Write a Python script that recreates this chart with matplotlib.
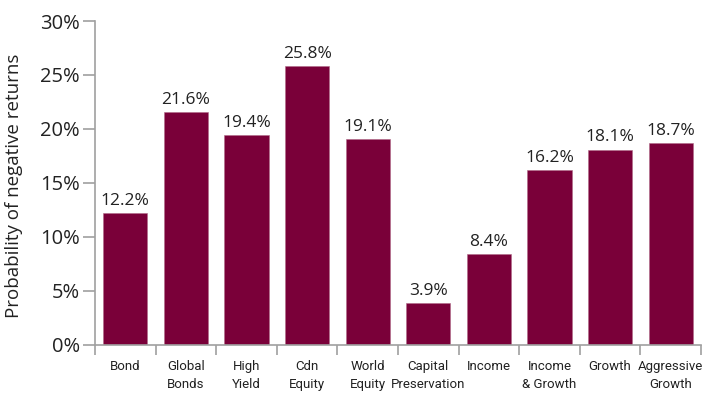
import numpy as np
import matplotlib.pyplot as plt
from matplotlib.ticker import FuncFormatter

categories = ['Bond', 'Global\nBonds', 'High\nYield', 'Cdn\nEquity', 'World\nEquity',
              'Capital\nPreservation', 'Income', 'Income\n& Growth', 'Growth', 'Aggressive\nGrowth']
neg_prob = [12.2, 21.6, 19.4, 25.8, 19.1, 3.9, 8.4, 16.2, 18.1, 18.7]

BAR_COLOR = '#7a0039'
AXIS_COLOR = '#a0a0a0'
TEXT_COLOR = '#222222'

fig = plt.figure(figsize=(7.02, 3.94), dpi=100)
ax = fig.add_axes([0.1353, 0.1244, 0.8633, 0.8223])

x = np.arange(len(categories))
bars = ax.bar(x, neg_prob, width=0.73, color=BAR_COLOR, edgecolor='#b06a88', linewidth=0.4)

# value labels above each bar
for b, v in zip(bars, neg_prob):
    ax.text(b.get_x() + b.get_width() / 2, v + 0.75, '%.1f%%' % v,
            ha='center', va='baseline', fontsize=12.5, color=TEXT_COLOR, family='Open Sans')

ax.set_xlim(-0.5, len(categories) - 0.5)
ax.set_ylim(0, 30)
ax.set_yticks(np.arange(0, 31, 5))
ax.yaxis.set_major_formatter(FuncFormatter(lambda v, p: '%d%%' % v))

# category ticks sit between the bars, names go on minor ticks
ax.set_xticks(np.arange(len(categories) + 1) - 0.5)
ax.set_xticklabels([])
ax.set_xticks(x, minor=True)
ax.set_xticklabels(categories, minor=True, fontsize=9.5, color=TEXT_COLOR,
                   family='Roboto', linespacing=1.45)
ax.tick_params(axis='x', which='minor', length=0, pad=11)
ax.tick_params(axis='x', which='major', length=7, width=1.2, color=AXIS_COLOR)
ax.tick_params(axis='y', length=9, width=1.2, color=AXIS_COLOR, labelsize=14.5,
               labelcolor=TEXT_COLOR, pad=2)
for lab in ax.get_yticklabels():
    lab.set_family('Open Sans')

for side in ['top', 'right']:
    ax.spines[side].set_visible(False)
for side in ['left', 'bottom']:
    ax.spines[side].set_color(AXIS_COLOR)
    ax.spines[side].set_linewidth(1.2)

ax.set_ylabel('Probability of negative returns', fontsize=13.5, color=TEXT_COLOR,
              family='Open Sans')
ax.yaxis.set_label_coords(-0.118, 0.49)

fig.savefig('out.png', dpi=100)
